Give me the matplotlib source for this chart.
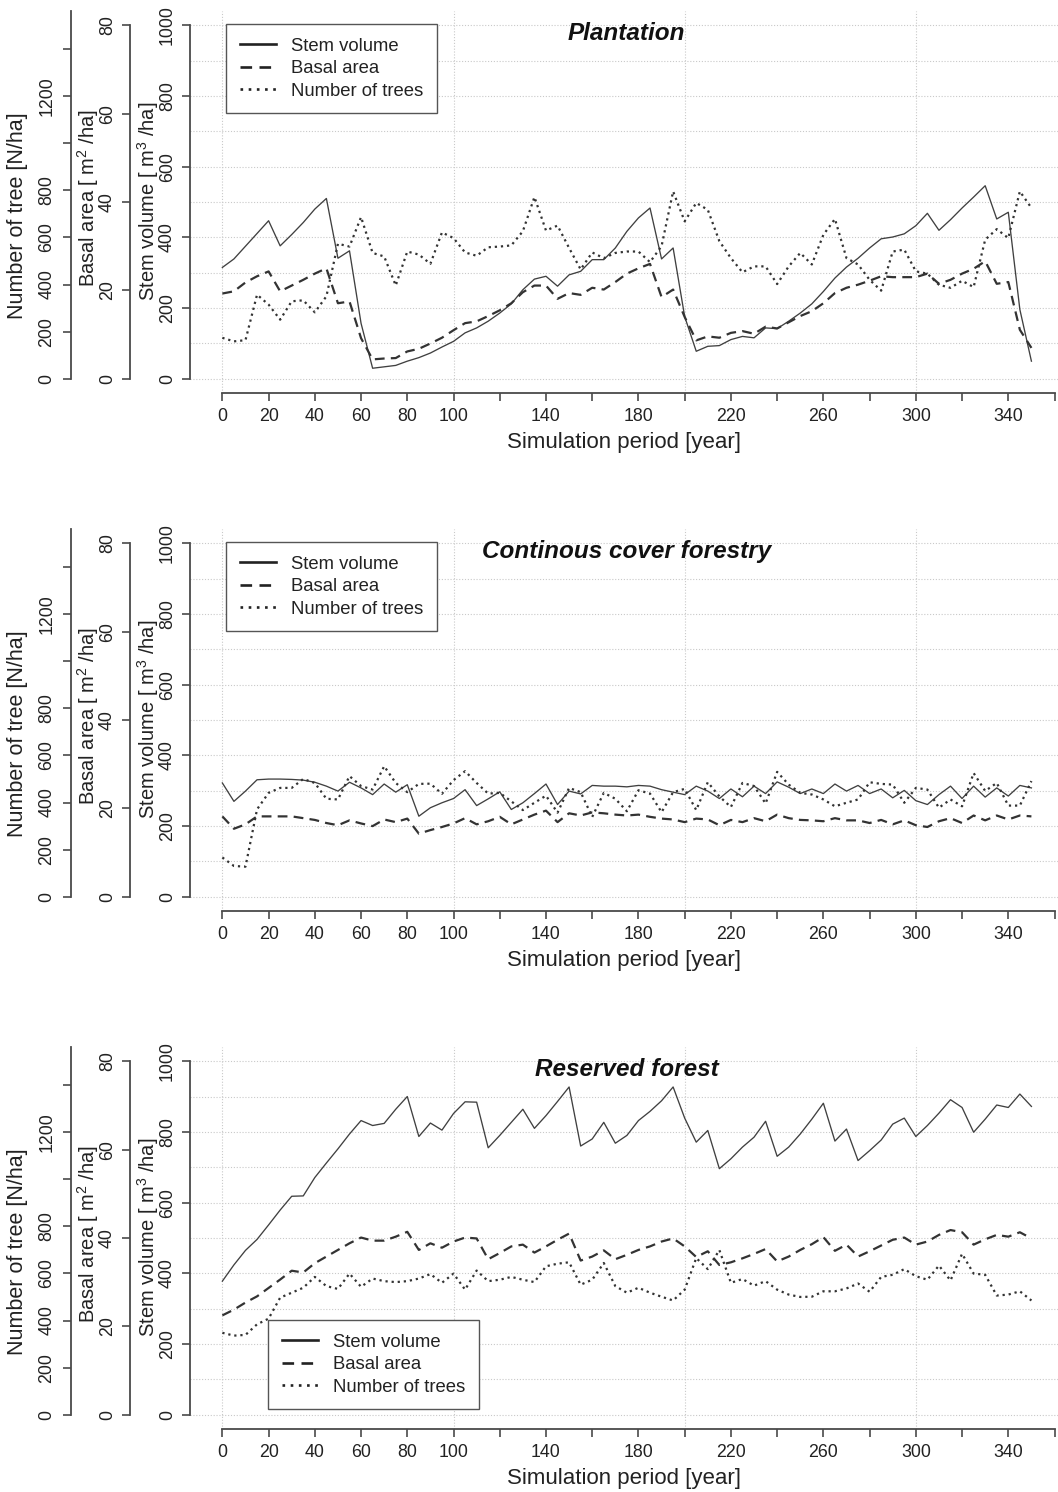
import matplotlib
matplotlib.use("Agg")
import matplotlib.pyplot as plt
import numpy as np
from matplotlib.lines import Line2D

plt.rcParams["font.family"] = ["Liberation Sans", "DejaVu Sans"]
plt.rcParams["mathtext.fontset"] = "custom"
plt.rcParams["mathtext.rm"] = "Liberation Sans"
plt.rcParams["mathtext.it"] = "Liberation Sans:italic"
plt.rcParams["mathtext.bf"] = "Liberation Sans:bold"

W, H = 1058, 1492

# Simulation years (5-year steps)
years = np.arange(0, 351, 5)

# ---- Plantation ----
plant_volume = [315, 339, 375, 411, 447, 376, 408, 442, 480, 510,
                341, 362, 157, 30, 34, 38, 50, 60, 73, 90,
                106, 130, 144, 163, 186, 212, 252, 282, 290, 262,
                294, 304, 337, 337, 370, 417, 455, 483, 339, 370,
                176, 78, 92, 94, 111, 120, 116, 144, 142, 163,
                186, 212, 247, 285, 316, 341, 370, 396, 401, 410,
                433, 468, 420, 450, 483, 514, 546, 452, 471, 196,
                50]
plant_basal = [19.3, 19.8, 21.8, 23.2, 24.3, 19.8, 21.1, 22.4, 23.8, 25.0,
               17.1, 17.5, 9.2, 4.4, 4.6, 4.7, 6.2, 6.8, 8.0, 9.3,
               11.0, 12.6, 13.0, 14.2, 15.5, 17.1, 19.6, 21.1, 21.1, 18.1,
               19.4, 19.0, 20.6, 20.2, 21.9, 23.8, 25.0, 26.0, 18.5, 20.2,
               14.0, 8.7, 9.6, 9.3, 10.4, 10.8, 10.2, 11.8, 11.4, 12.8,
               14.2, 15.3, 17.1, 19.4, 20.6, 21.3, 22.2, 23.2, 23.0, 23.0,
               23.0, 23.8, 21.5, 22.4, 23.8, 24.9, 26.6, 21.5, 21.9, 11.1,
               7.0]
plant_trees = [174, 159, 164, 357, 315, 251, 329, 333, 282, 350,
               573, 561, 686, 534, 519, 396, 540, 527, 488, 621,
               597, 536, 522, 558, 561, 566, 626, 771, 629, 650,
               555, 464, 536, 512, 534, 540, 540, 495, 563, 795,
               668, 746, 717, 584, 512, 452, 477, 477, 402, 477,
               534, 485, 611, 678, 512, 485, 420, 374, 540, 548,
               456, 446, 399, 386, 416, 389, 590, 635, 597, 795,
               725]

# ---- Continuous cover forestry ----
ccf_volume = [322, 270, 299, 331, 333, 333, 332, 330, 324, 313,
              299, 324, 308, 289, 319, 296, 317, 228, 252, 266,
              278, 303, 258, 277, 297, 247, 266, 292, 319, 261,
              299, 291, 315, 313, 313, 311, 315, 313, 303, 296,
              289, 313, 299, 278, 305, 283, 313, 292, 325, 310,
              292, 305, 292, 319, 299, 315, 292, 305, 280, 301,
              272, 261, 289, 313, 278, 313, 282, 308, 285, 315,
              308]
ccf_basal = [18.2, 15.4, 16.4, 18.2, 18.2, 18.2, 18.2, 17.8, 17.4, 16.7,
             16.2, 17.3, 16.6, 16.0, 17.5, 16.9, 17.7, 14.3, 15.1, 15.8,
             16.6, 17.8, 16.4, 17.1, 18.1, 16.4, 17.5, 18.6, 19.5, 16.9,
             18.9, 18.4, 19.1, 18.9, 18.6, 18.4, 18.6, 18.1, 17.7, 17.5,
             16.9, 17.7, 17.5, 16.2, 17.4, 16.9, 17.8, 17.1, 18.6, 17.8,
             17.4, 17.3, 17.1, 17.8, 17.3, 17.3, 16.7, 17.4, 16.4, 17.3,
             16.2, 15.8, 17.1, 17.8, 16.7, 18.4, 17.3, 18.4, 17.5, 18.4,
             18.2]
ccf_trees = [167, 131, 128, 371, 441, 462, 462, 500, 483, 416,
             413, 512, 470, 455, 554, 483, 444, 479, 480, 437,
             495, 533, 483, 438, 441, 405, 368, 399, 429, 357,
             462, 444, 339, 441, 416, 363, 452, 438, 359, 444,
             458, 368, 486, 426, 381, 483, 470, 396, 530, 476,
             441, 434, 413, 384, 399, 413, 486, 479, 476, 399,
             462, 455, 378, 413, 384, 525, 449, 483, 387, 387,
             491]

# ---- Reserved forest ----
res_volume = [378, 424, 465, 496, 537, 579, 618, 619, 671, 712,
              752, 794, 832, 818, 824, 864, 900, 787, 825, 805,
              852, 885, 884, 755, 790, 827, 864, 810, 846, 886,
              927, 760, 780, 827, 768, 790, 832, 858, 888, 927,
              839, 771, 804, 696, 724, 757, 785, 830, 731, 757,
              794, 836, 881, 774, 808, 719, 747, 777, 822, 839,
              787, 818, 853, 891, 869, 799, 836, 876, 869, 907,
              872]
res_basal = [22.5, 23.8, 25.4, 26.8, 28.7, 30.6, 32.6, 32.2, 34.3, 35.8,
             37.3, 38.8, 40.1, 39.4, 39.4, 40.3, 41.4, 37.3, 38.8, 37.8,
             39.2, 40.1, 39.9, 35.2, 36.6, 38.1, 38.5, 36.7, 38.1, 39.6,
             41.0, 34.9, 35.8, 37.2, 35.2, 36.2, 37.3, 38.1, 39.2, 39.9,
             38.1, 35.7, 37.0, 33.9, 34.5, 35.4, 36.4, 37.5, 34.7, 35.8,
             37.3, 38.6, 40.2, 37.1, 38.5, 35.8, 37.0, 38.3, 39.6, 40.1,
             38.5, 39.2, 40.7, 41.8, 41.3, 38.5, 39.7, 40.7, 40.3, 41.3,
             39.9]
res_trees = [348, 336, 339, 384, 408, 497, 518, 539, 585, 546,
             534, 599, 543, 578, 567, 563, 567, 578, 597, 560,
             599, 531, 612, 567, 573, 585, 573, 563, 630, 641,
             647, 552, 573, 644, 546, 518, 539, 518, 501, 485,
             531, 665, 618, 699, 560, 576, 548, 567, 531, 510,
             500, 501, 524, 524, 536, 557, 522, 585, 594, 618,
             588, 573, 633, 570, 683, 599, 594, 506, 510, 524,
             485]

# Axis ticks and labels
x_ticks = list(range(0, 361, 20))
x_labels = ["0", "20", "40", "60", "80", "100", "", "140", "", "180", "",
            "220", "", "260", "", "300", "", "340", ""]
vol_ticks = [0, 200, 400, 600, 800, 1000]
ba_ticks = [0, 20, 40, 60, 80]
nt_ticks = [0, 200, 400, 600, 800, 1000, 1200, 1400]
nt_labels = ["0", "200", "400", "600", "800", "", "1200", ""]
legend_labels = ["Stem volume", "Basal area", "Number of trees"]

AXC = "#4a4a4a"
TXT = "#222222"
LINEC = "#333333"
GRIDC = "#c9c9c9"

DASH = (0, (4.4, 2.8))
DOT = (0, (1.0, 1.75))

solid_kw = dict(color="#404040", lw=0.95, linestyle="-")
dash_kw = dict(color=LINEC, lw=1.6, linestyle=DASH)
dot_kw = dict(color=LINEC, lw=1.6, linestyle=DOT)

# legend keys are drawn a bit heavier than the plotted lines
legend_handles = [
    Line2D([], [], color="#222222", lw=1.9, linestyle="-"),
    Line2D([], [], color="#222222", lw=1.9, linestyle=DASH),
    Line2D([], [], color="#222222", lw=1.9, linestyle=(0, (1.0, 2.1))),
]

fig = plt.figure(figsize=(W / 100, H / 100), dpi=100)

PX2PT = 0.72


def style_yaxis(a, ticks, labels, lo, hi, offset_px, pad):
    a.yaxis.set_ticks_position("left")
    for s in ("top", "right", "bottom"):
        a.spines[s].set_visible(False)
    sp = a.spines["left"]
    sp.set_visible(True)
    sp.set_position(("outward", offset_px * PX2PT))
    sp.set_bounds(lo, hi)
    sp.set_color(AXC)
    sp.set_linewidth(1.3)
    a.set_yticks(ticks, labels, rotation=90, va="center", ha="right")
    a.tick_params(axis="y", direction="out", length=5.6, width=1.2,
                  colors=AXC, labelcolor=TXT, labelsize=12.8, pad=pad)


def panel(k, title, vol, ba, nt, leg_xy):
    top = 11 + 518 * k
    ax = fig.add_axes([190 / W, 1 - (top + 382) / H, 868 / W, 382 / H])
    ax.set_xlim(-14, 361.5)
    ax.set_ylim(-40, 1040)
    ax.patch.set_alpha(0)

    # dotted reference grid
    for gy in range(0, 1001, 100):
        ax.axhline(gy, color=GRIDC, lw=0.8, linestyle=(0, (1, 1.6)), zorder=0)
    for gx in (0, 100, 200, 300):
        ax.axvline(gx, color=GRIDC, lw=0.8, linestyle=(0, (1, 1.6)), zorder=0)

    ax_ba = ax.twinx()
    ax_ba.set_ylim(-3.2, 83.2)
    ax_nt = ax.twinx()
    ax_nt.set_ylim(-60, 1560)

    style_yaxis(ax, vol_ticks, [str(v) for v in vol_ticks], 0, 1000, 0, 4.5)
    style_yaxis(ax_ba, ba_ticks, [str(v) for v in ba_ticks], 0, 80, 60, 4.5)
    style_yaxis(ax_nt, nt_ticks, nt_labels, 0, 1560, 119, 5.5)

    # x axis
    ax.spines["bottom"].set_visible(True)
    ax.spines["bottom"].set_bounds(0, 360)
    ax.spines["bottom"].set_color(AXC)
    ax.spines["bottom"].set_linewidth(1.3)
    ax.set_xticks(x_ticks, x_labels)
    ax.tick_params(axis="x", direction="out", length=5.6, width=1.2,
                   colors=AXC, labelcolor=TXT, labelsize=12.8, pad=5)
    ax.set_xlabel("Simulation period [year]", fontsize=16, color=TXT,
                  labelpad=5)

    ax.plot(years, vol, **solid_kw)
    ax_ba.plot(years, ba, **dash_kw)
    ax_nt.plot(years, nt, **dot_kw)

    ax_nt.text(0.503, 0.940, title, transform=ax.transAxes, ha="center",
               va="center", fontsize=17.5, fontweight="bold",
               fontstyle="italic", color="#111111")

    leg = ax_nt.legend(legend_handles, legend_labels, loc="upper left",
                       bbox_to_anchor=leg_xy, bbox_transform=ax.transAxes,
                       borderaxespad=0, fontsize=13.3, frameon=True,
                       fancybox=False, framealpha=1, edgecolor="#555555",
                       handlelength=1.95, handletextpad=0.85,
                       labelspacing=0.3, borderpad=0.74)
    leg.get_frame().set_linewidth(1.0)
    for t in leg.get_texts():
        t.set_color(TXT)

    # axis titles on the left
    yoff = 518 * k
    fig.text(18 / W, 1 - (216 + yoff) / H, "Number of tree [N/ha]",
             rotation=90, ha="center", va="center", fontsize=15.5, color=TXT)
    fig.text(88 / W, 1 - (198 + yoff) / H, r"Basal area [ m$^{2}$ /ha]",
             rotation=90, ha="center", va="center", fontsize=14.5, color=TXT)
    fig.text(148 / W, 1 - (201 + yoff) / H, r"Stem volume [ m$^{3}$ /ha]",
             rotation=90, ha="center", va="center", fontsize=14.5, color=TXT)
    return ax


panel(0, "Plantation", plant_volume, plant_basal, plant_trees,
      (0.0415, 0.966))
panel(1, "Continous cover forestry", ccf_volume, ccf_basal, ccf_trees,
      (0.0415, 0.966))
panel(2, "Reserved forest", res_volume, res_basal, res_trees,
      (0.0899, 0.2853))

fig.savefig("out.png", dpi=100)
